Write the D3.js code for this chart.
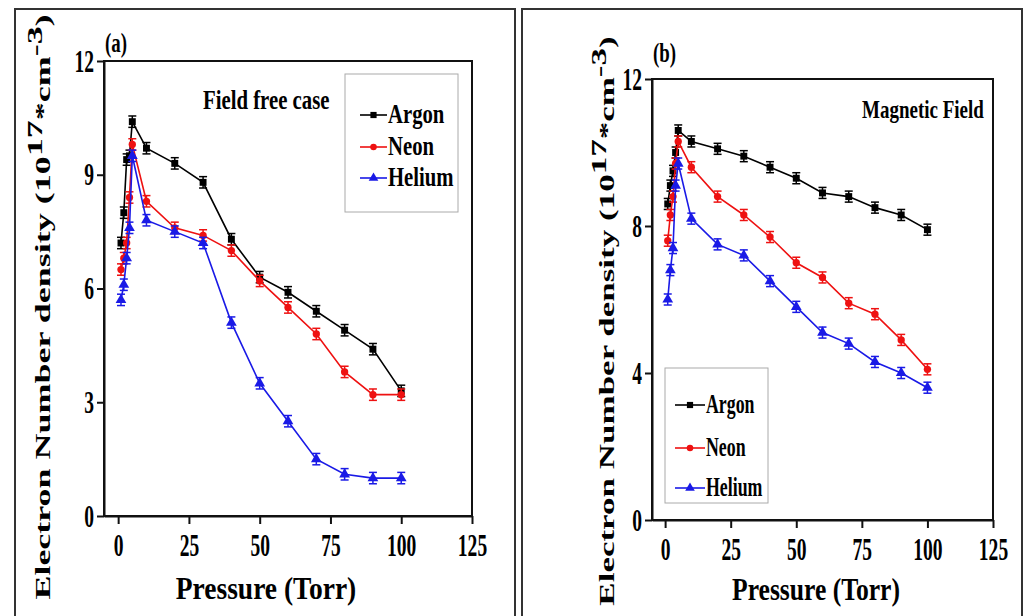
<!DOCTYPE html>
<html>
<head>
<meta charset="utf-8">
<script src="https://cdn.jsdelivr.net/npm/d3@7"></script>
<style>
  html, body { margin: 0; padding: 0; background: #fff; }
  svg { display: block; }
  text { font-family: "Liberation Serif", "Times New Roman", serif; font-weight: bold; fill: #000; }
</style>
</head>
<body>
<svg id="chart" width="1024" height="616"></svg>
<script>
// ---------- data ----------
const pressure = [1, 2, 3, 4, 5, 10, 20, 30, 40, 50, 60, 70, 80, 90, 100];
const seriesNames = ["Argon", "Neon", "Helium"];
// (a) Field free case
const argonA  = [7.2, 8.0, 9.4, 9.5, 10.4, 9.7, 9.3, 8.8, 7.3, 6.3, 5.9, 5.4, 4.9, 4.4, 3.3];
const neonA   = [6.5, 6.8, 7.2, 8.4, 9.8, 8.3, 7.6, 7.4, 7.0, 6.2, 5.5, 4.8, 3.8, 3.2, 3.2];
const heliumA = [5.7, 6.1, 6.8, 7.6, 9.5, 7.8, 7.5, 7.2, 5.1, 3.5, 2.5, 1.5, 1.1, 1.0, 1.0];
// (b) Magnetic Field
const argonB  = [8.6, 9.1, 9.5, 10.0, 10.6, 10.3, 10.1, 9.9, 9.6, 9.3, 8.9, 8.8, 8.5, 8.3, 7.9];
const neonB   = [7.6, 8.3, 8.8, 9.7, 10.3, 9.6, 8.8, 8.3, 7.7, 7.0, 6.6, 5.9, 5.6, 4.9, 4.1];
const heliumB = [6.0, 6.8, 7.4, 9.1, 9.7, 8.2, 7.5, 7.2, 6.5, 5.8, 5.1, 4.8, 4.3, 4.0, 3.6];
const errA = 0.15, errB = 0.15;
const xTicks  = [0, 25, 50, 75, 100, 125];
const yTicksA = [0, 3, 6, 9, 12];
const yTicksB = [0, 4, 8, 12];
const xDomain = [-5, 125];

// ---------- style ----------
const colors = ["#000000", "#ee1111", "#1a1ae6"];
const markers = [d3.symbolSquare, d3.symbolCircle, d3.symbolTriangle];
const markerSize = [48, 42, 50];

const svg = d3.select("#chart");

const panels = [
  {
    label: "(a)", labelPos: [105, 52],
    frame: [15, 9, 500, 640],
    plot: { x0: 104, x1: 472, y0: 61, y1: 516 },
    yMax: 12, yTicks: yTicksA,
    data: [argonA, neonA, heliumA], err: errA,
    note: "Field free case", notePos: [203, 109], noteSize: 27, noteScale: 0.77,
    legendBox: [345, 74, 113, 138], legendRows: [115, 147, 178], legendLine: [360, 387], legendText: 388,
    legendSize: 28, legendScale: 0.74,
    yTitle: [42, 307], yTitleSize: 36, xTitle: [266, 599], xTitleScale: 0.86
  },
  {
    label: "(b)", labelPos: [653, 62],
    frame: [522, 9, 500, 640],
    plot: { x0: 652, x1: 993, y0: 79, y1: 520 },
    yMax: 12, yTicks: yTicksB,
    data: [argonB, neonB, heliumB], err: errB,
    note: "Magnetic Field", notePos: [862, 118], noteSize: 25, noteScale: 0.76,
    legendBox: [665, 368, 103, 135], legendRows: [405, 448, 488], legendLine: [675, 705], legendText: 706,
    legendSize: 27, legendScale: 0.66,
    yTitle: [606, 321], yTitleSize: 35, xTitle: [816, 600], xTitleScale: 0.8
  }
];

function squishText(sel, x, y, size, sx, anchor) {
  return sel.attr("transform", `translate(${x},${y}) scale(${sx},1)`)
    .attr("font-size", size)
    .attr("text-anchor", anchor || "start");
}

panels.forEach(p => {
  const g = svg.append("g");
  // outer border
  g.append("rect")
    .attr("x", p.frame[0]).attr("y", p.frame[1])
    .attr("width", p.frame[2]).attr("height", p.frame[3])
    .attr("fill", "none").attr("stroke", "#333").attr("stroke-width", 2);

  const x = d3.scaleLinear().domain(xDomain).range([p.plot.x0, p.plot.x1]);
  const y = d3.scaleLinear().domain([0, p.yMax]).range([p.plot.y1, p.plot.y0]);

  // plot frame
  g.append("rect")
    .attr("x", p.plot.x0).attr("y", p.plot.y0)
    .attr("width", p.plot.x1 - p.plot.x0).attr("height", p.plot.y1 - p.plot.y0)
    .attr("fill", "none").attr("stroke", "#111").attr("stroke-width", 2);

  // axes
  const xAxis = g.append("g").attr("transform", `translate(0,${p.plot.y1})`)
    .call(d3.axisBottom(x).tickValues(xTicks).tickSize(8).tickSizeOuter(0).tickFormat(d3.format("d")));
  const yAxis = g.append("g").attr("transform", `translate(${p.plot.x0},0)`)
    .call(d3.axisLeft(y).tickValues(p.yTicks).tickSize(7).tickSizeOuter(0).tickFormat(d3.format("d")));
  [xAxis, yAxis].forEach(a => {
    a.select(".domain").attr("stroke", "#111").attr("stroke-width", 2);
    a.selectAll(".tick line").attr("stroke", "#111").attr("stroke-width", 2);
    a.attr("font-family", null).attr("font-size", null);
  });
  xAxis.selectAll(".tick text")
    .attr("y", null).attr("dy", null)
    .attr("transform", "translate(0,40) scale(0.63,1)")
    .attr("font-size", 31).attr("text-anchor", "middle");
  yAxis.selectAll(".tick text")
    .attr("x", null).attr("dy", null)
    .attr("transform", "translate(-10,10) scale(0.63,1)")
    .attr("font-size", 31).attr("text-anchor", "end");

  // series
  p.data.forEach((vals, si) => {
    const pts = pressure.map((pr, i) => ({ p: pr, v: vals[i] }));
    g.append("path").datum(pts)
      .attr("fill", "none").attr("stroke", colors[si]).attr("stroke-width", 1.6)
      .attr("d", d3.line().x(d => x(d.p)).y(d => y(d.v)));
    const eb = g.append("g").attr("stroke", colors[si]).attr("stroke-width", 1.5);
    eb.selectAll("line.v").data(pts).join("line")
      .attr("x1", d => x(d.p)).attr("x2", d => x(d.p))
      .attr("y1", d => y(d.v - p.err)).attr("y2", d => y(d.v + p.err));
    eb.selectAll("line.t").data(pts).join("line")
      .attr("x1", d => x(d.p) - 4).attr("x2", d => x(d.p) + 4)
      .attr("y1", d => y(d.v + p.err)).attr("y2", d => y(d.v + p.err));
    eb.selectAll("line.b").data(pts).join("line")
      .attr("x1", d => x(d.p) - 4).attr("x2", d => x(d.p) + 4)
      .attr("y1", d => y(d.v - p.err)).attr("y2", d => y(d.v - p.err));
    g.append("g").selectAll("path").data(pts).join("path")
      .attr("d", d3.symbol().type(markers[si]).size(markerSize[si]))
      .attr("transform", d => `translate(${x(d.p)},${y(d.v)})`)
      .attr("fill", colors[si]);
  });

  // legend
  g.append("rect")
    .attr("x", p.legendBox[0]).attr("y", p.legendBox[1])
    .attr("width", p.legendBox[2]).attr("height", p.legendBox[3])
    .attr("fill", "#fff").attr("stroke", "#aaa").attr("stroke-width", 1);
  seriesNames.forEach((name, si) => {
    const ly = p.legendRows[si];
    g.append("line")
      .attr("x1", p.legendLine[0]).attr("x2", p.legendLine[1])
      .attr("y1", ly).attr("y2", ly)
      .attr("stroke", colors[si]).attr("stroke-width", 1.6);
    g.append("path")
      .attr("d", d3.symbol().type(markers[si]).size(markerSize[si] * 0.8))
      .attr("transform", `translate(${(p.legendLine[0] + p.legendLine[1]) / 2},${ly})`)
      .attr("fill", colors[si]);
    squishText(g.append("text").text(name), p.legendText, ly + 8, p.legendSize, p.legendScale);
  });

  // annotations
  squishText(g.append("text").text(p.note), p.notePos[0], p.notePos[1], p.noteSize, p.noteScale);
  squishText(g.append("text").text(p.label), p.labelPos[0], p.labelPos[1], 27, 0.7);
  squishText(g.append("text").text("Pressure (Torr)"), p.xTitle[0], p.xTitle[1], 32, p.xTitleScale, "middle");

  // y title
  const sh = Math.round(p.yTitleSize * 0.36);
  const yt = g.append("text")
    .attr("transform", `translate(${p.yTitle[0]},${p.yTitle[1]}) scale(0.58,1) rotate(-90)`)
    .attr("font-size", p.yTitleSize).attr("text-anchor", "middle").attr("dy", sh);
  yt.append("tspan").text("Electron Number density (10");
  yt.append("tspan").attr("dy", -sh).text("17");
  yt.append("tspan").attr("dy", sh).text("*cm");
  yt.append("tspan").attr("dy", -sh).text("-3");
  yt.append("tspan").attr("dy", sh).text(")");
});
</script>
</body>
</html>
